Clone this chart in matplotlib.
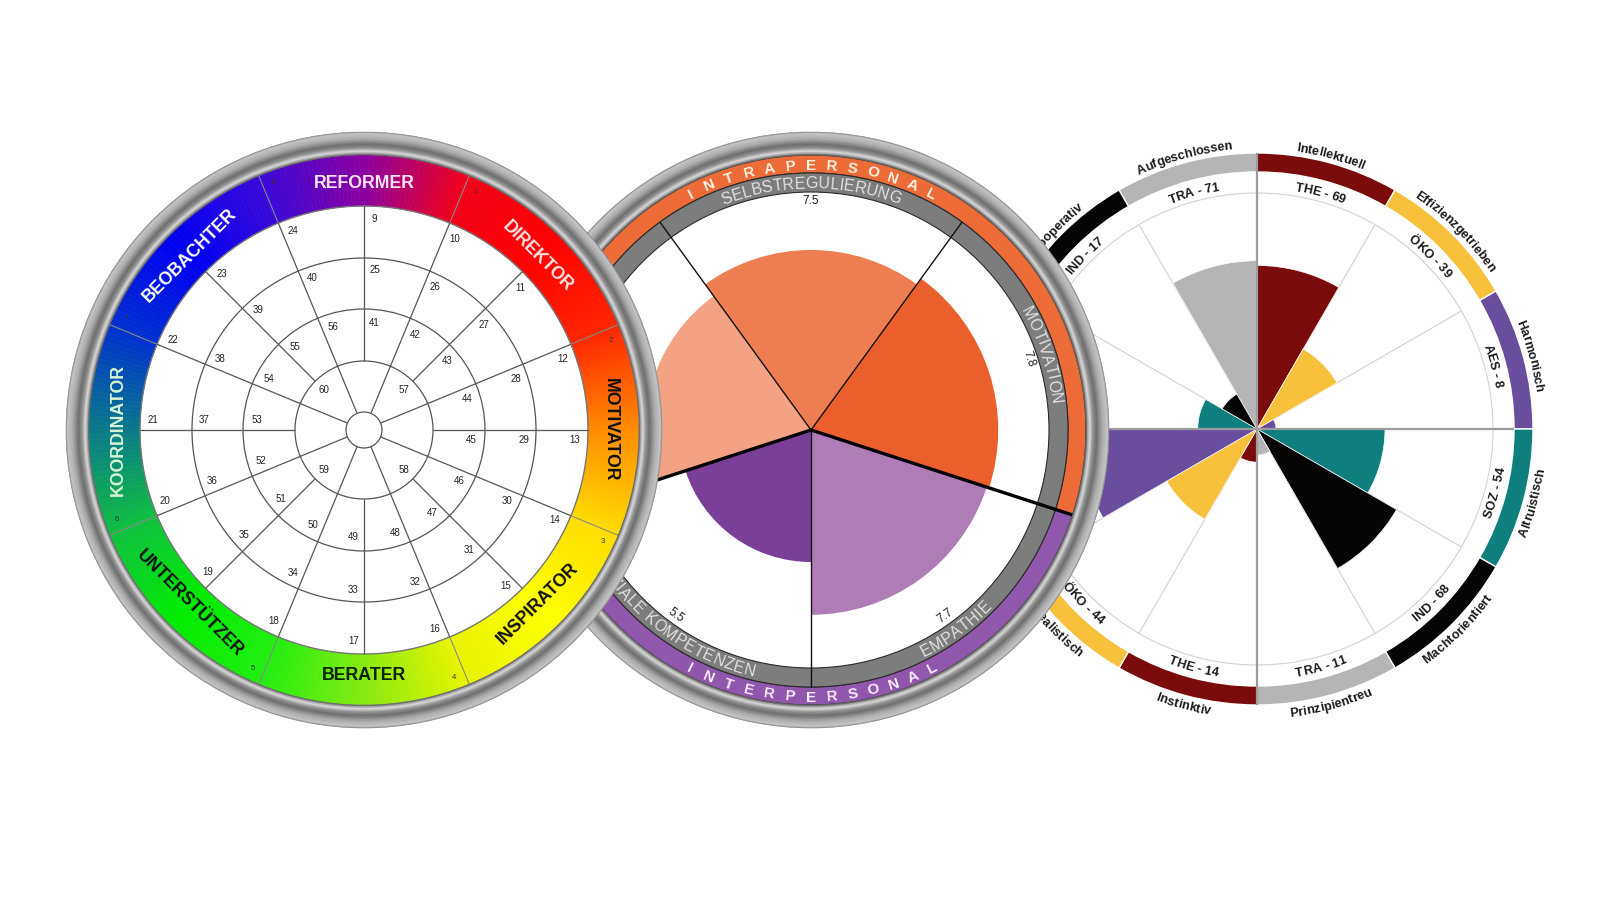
import numpy as np
import matplotlib
matplotlib.use("Agg")
import matplotlib.pyplot as plt
from matplotlib.patches import Wedge, Circle
from matplotlib.colors import to_rgb
from matplotlib.font_manager import FontProperties

FAM = ['Liberation Sans', 'DejaVu Sans']
plt.rcParams['font.family'] = FAM
DPI = 100

# ====================== DATA ======================
# Left wheel: eight types, clockwise starting at the top
type_names = ["REFORMER", "DIREKTOR", "MOTIVATOR", "INSPIRATOR",
              "BERATER", "UNTERSTÜTZER", "KOORDINATOR", "BEOBACHTER"]
type_numbers = ["8", "1", "2", "3", "4", "5", "6", "7"]
type_text_colors = ["#fbe2f4", "#ffe4e4", "#111111", "#111111",
                    "#0c2200", "#111111", "#d6f3d6", "#ffffff"]
# grid cell numbers, clockwise starting at the top spoke
grid_ring1 = list(range(9, 25))
grid_ring2 = list(range(25, 41))
grid_ring3 = list(range(41, 57))
grid_ring4 = [57, 58, 59, 60]

# Middle wheel: emotional-intelligence domains (clockwise from top)
eq_domains = ["SELBSTREGULIERUNG", "MOTIVATION", "EMPATHIE",
              "SOZIALE KOMPETENZEN", ""]          # last label is hidden in the source
eq_values = [7.5, 7.8, 7.7, 5.5, 6.9]
eq_colors = ["#ee7d52", "#ea5f2b", "#b07cb8", "#7b3f98", "#f3a383"]
eq_groups = ["INTRAPERSONAL", "INTERPERSONAL"]
eq_group_colors = ["#ec6b37", "#9157ac"]

# Right wheel: driving forces (clockwise from top-left of the vertical axis)
dv_codes = ["TRA", "THE", "ÖKO", "AES", "SOZ", "IND",
            "TRA", "THE", "ÖKO", "AES", "SOZ", "IND"]
dv_values = [71, 69, 39, 8, 54, 68, 11, 14, 44, 75, 25, 17]
dv_names = ["Aufgeschlossen", "Intellektuell", "Effizienzgetrieben", "Harmonisch",
            "Altruistisch", "Machtorientiert", "Prinzipientreu", "Instinktiv",
            "Idealistisch", "Objektiv", "Zielgerichtet", "Kooperativ"]
dv_palette = {"TRA": "#b5b5b5", "THE": "#7b0b0b", "ÖKO": "#f7c13c",
              "AES": "#6a4e9e", "SOZ": "#0e7e7e", "IND": "#050505"}

# ====================== STYLE / GEOMETRY ======================
C1 = (364, 470)
C2 = (811, 470)
C3 = (1257, 471)
R_METAL_OUT, R_METAL_IN = 298, 275

hue_stops = [(-90, "#86ea10"), (-67.5, "#e8f400"), (-45, "#ffff00"), (-22.5, "#ffdc00"),
             (0, "#ff8c00"), (22.5, "#ff2600"), (45, "#ff0000"), (67.5, "#f20018"),
             (90, "#8c00a0"), (112.5, "#3a08d8"), (135, "#0000f2"), (157.5, "#0030d0"),
             (180, "#0a7a8a"), (202.5, "#10c040"), (225, "#00ec00"), (247.5, "#20ee10"),
             (270, "#86ea10")]
metal_stops = [(0.0, "#7a7a7a"), (0.08, "#c4c4c4"), (0.3, "#acacac"), (0.55, "#6c6c6c"),
               (0.7, "#8c8c8c"), (0.85, "#d8d8d8"), (0.95, "#9a9a9a"), (1.0, "#505050")]

fig = plt.figure(figsize=(16, 9), dpi=DPI)
ax = fig.add_axes([0, 0, 1, 1])
ax.set_xlim(0, 1600)
ax.set_ylim(0, 900)
ax.axis('off')
fig.patch.set_facecolor('white')
renderer = fig.canvas.get_renderer()


def pol(c, r, a):
    t = np.deg2rad(a)
    return c[0] + r * np.cos(t), c[1] + r * np.sin(t)


def is_top(a):
    m = a % 360.0
    return m <= 180.0 + 1e-9


def interp(stops, v):
    xs = [s[0] for s in stops]
    cols = np.array([to_rgb(s[1]) for s in stops])
    return tuple(np.interp(v, xs, cols[:, i]) for i in range(3))


def tw(s, prop):
    w, h, d = renderer.get_text_width_height_descent(s, prop, ismath=False)
    return w


def adv(ch, prop):
    return tw('|' + ch + '|', prop) - tw('||', prop)


def curved(c, r, ac, s, fs, color, weight='normal', z=5, track=0.0, span=None):
    if not s:
        return
    prop = FontProperties(family=FAM, size=fs, weight=weight)
    top = is_top(ac)
    n = len(s)
    cap = 0.72 * fs * DPI / 72
    if span is not None:
        offs = [-span / 2 + span * i / (n - 1) for i in range(n)]
    else:
        widths = [adv(ch, prop) for ch in s]
        total = sum(widths) + track * (n - 1)
        offs, cum = [], 0.0
        for w in widths:
            offs.append(np.rad2deg((cum + w / 2 - total / 2) / r))
            cum += w + track
    for ch, o in zip(s, offs):
        if top:
            a = ac - o
            rot = a - 90
            rb = r - cap / 2
        else:
            a = ac + o
            rot = a + 90
            rb = r + cap / 2
        x, y = pol(c, rb, a)
        ax.text(x, y, ch, rotation=rot, rotation_mode='anchor', ha='center',
                va='baseline', fontproperties=prop, color=color, zorder=z)


def straight(c, r, a, s, fs, color, weight='normal', z=5, tangential=True):
    rot = (a - 90 if is_top(a) else a + 90) if tangential else 0
    x, y = pol(c, r, a)
    ax.text(x, y, s, rotation=rot, rotation_mode='anchor', ha='center', va='center',
            fontsize=fs, fontweight=weight, color=color, zorder=z, family=FAM)


def metal_ring(c, z):
    n = 30
    edges = np.linspace(R_METAL_OUT, R_METAL_IN, n + 1)
    for i in range(n):
        col = interp(metal_stops, (i + 0.5) / n)
        ax.add_patch(Wedge(c, edges[i], 0, 360, width=edges[i] - edges[i + 1],
                           fc=col, ec=col, lw=0.4, zorder=z))


def line(c, r0, r1, a, color, lw, z):
    x0, y0 = pol(c, r0, a)
    x1, y1 = pol(c, r1, a)
    ax.plot([x0, x1], [y0, y1], color=color, lw=lw, zorder=z, solid_capstyle='butt')


# ====================== RIGHT WHEEL (back) ======================
RS = 2.37
for k in range(12):
    line(C3, 0, 236, 30 * k, "#d2d2d2", 0.8, 1)
ax.add_patch(Circle(C3, 236, fill=False, ec="#d2d2d2", lw=0.8, zorder=1))
for k, (code, val) in enumerate(zip(dv_codes, dv_values)):
    ac = 105 - 30 * k
    col = dv_palette[code]
    ax.add_patch(Wedge(C3, RS * val, ac - 15, ac + 15, fc=col, ec='white', lw=0.5, zorder=2))
    ax.add_patch(Wedge(C3, 276, ac - 15, ac + 15, width=19, fc=col, ec='white', lw=1.0, zorder=3))
    curved(C3, 246, ac, f"{code} - {val}", 9.2, "#1a1a1a", weight='bold', z=4)
    curved(C3, 285, ac, dv_names[k], 9.2, "#1a1a1a", weight='bold', z=4)
for a in (0, 180):
    line(C3, 0, 257, a, "#9c9c9c", 1.6, 3.5)
for a in (90, 270):
    line(C3, 0, 276, a, "#9c9c9c", 1.6, 3.5)

# ====================== MIDDLE WHEEL ======================
ax.add_patch(Circle(C2, R_METAL_OUT, fc='white', ec='none', zorder=10))
# group bands
ax.add_patch(Wedge(C2, 275, -18, 198, width=18, fc=eq_group_colors[0], ec="#2a2a2a", lw=0.8, zorder=11))
ax.add_patch(Wedge(C2, 275, 198, 342, width=18, fc=eq_group_colors[1], ec="#2a2a2a", lw=0.8, zorder=11))
ax.add_patch(Wedge(C2, 257, 0, 360, width=19, fc="#7d7d7d", ec="#2a2a2a", lw=0.8, zorder=11))
MS = 24.0
for k, (name, val, col) in enumerate(zip(eq_domains, eq_values, eq_colors)):
    ac = 90 - 72 * k
    ax.add_patch(Wedge(C2, MS * val, ac - 36, ac + 36, fc=col, ec='none', zorder=11.5))
    curved(C2, 247.5, ac, name, 11.5, "#e2e2e2", z=13, track=0.3)
    straight(C2, 229, ac, f"{val}", 8.5, "#1a1a1a", z=13)
for a in (54, 126, 270):
    line(C2, 0, 257, a, "#111111", 1.0, 12)
for a in (-18, 198):
    line(C2, 0, 275, a, "#000000", 2.4, 12)
curved(C2, 266, 90, eq_groups[0], 11, "#fff2e6", weight='bold', z=13, span=54)
curved(C2, 266, -90, eq_groups[1], 11, "#f6ecfb", weight='bold', z=13, span=54)
metal_ring(C2, 14)

# ====================== LEFT WHEEL (front) ======================
ax.add_patch(Circle(C1, R_METAL_OUT, fc='white', ec='none', zorder=20))
for d in range(-90, 270):
    col = interp(hue_stops, d + 0.5)
    ax.add_patch(Wedge(C1, 275, d, d + 1.02, width=51, fc=col, ec=col, lw=0.4, zorder=21))
for k in range(8):
    line(C1, 224, 275, 112.5 - 45 * k, "#8a8a8a", 0.8, 21.5)
ax.add_patch(Circle(C1, 224, fill=False, ec="#777777", lw=1.0, zorder=22))
for r in (18, 69, 121, 172):
    ax.add_patch(Circle(C1, r, fill=False, ec="#555555", lw=0.9, zorder=22))
for k in range(16):
    a = 90 - 22.5 * k
    line(C1, 69 if k % 2 == 0 else 18, 224, a, "#555555", 0.9, 22)
for ring, rl in ((grid_ring1, 211), (grid_ring2, 160), (grid_ring3, 108)):
    for k, num in enumerate(ring):
        a = 90 - 22.5 * k - np.rad2deg(10.5 / rl)
        straight(C1, rl, a, str(num), 7, "#222222", z=23, tangential=False)
for num, a in zip(grid_ring4, (45, -45, -135, 135)):
    straight(C1, 57, a, str(num), 7, "#222222", z=23, tangential=False)
for k, (name, num, tc) in enumerate(zip(type_names, type_numbers, type_text_colors)):
    a = 90 - 45 * k
    straight(C1, 246, a, name, 12.8, tc, weight='bold', z=23)
    straight(C1, 263, a + 20, num, 5.5, "#333333", z=23, tangential=False)
metal_ring(C1, 24)

fig.savefig("out.png", dpi=DPI, facecolor='white')
